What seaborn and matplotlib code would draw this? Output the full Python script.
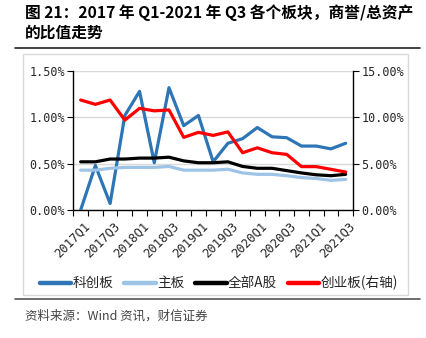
import numpy as np
import pandas as pd
import matplotlib
matplotlib.use("Agg")
import matplotlib.pyplot as plt
import seaborn as sns
from matplotlib.lines import Line2D
from matplotlib.patches import Rectangle
from matplotlib.ticker import FuncFormatter, MultipleLocator, FixedLocator
import matplotlib.transforms as mtransforms

quarters = ["2017Q1", "2017Q2", "2017Q3", "2017Q4", "2018Q1", "2018Q2", "2018Q3", "2018Q4",
            "2019Q1", "2019Q2", "2019Q3", "2019Q4", "2020Q1", "2020Q2", "2020Q3", "2020Q4",
            "2021Q1", "2021Q2", "2021Q3"]
kcb = [0.00, 0.48, 0.07, 1.02, 1.28, 0.51, 1.32, 0.91, 1.02, 0.52, 0.72, 0.77, 0.89, 0.79,
       0.78, 0.69, 0.69, 0.66, 0.72]
zb = [0.43, 0.43, 0.45, 0.46, 0.46, 0.46, 0.47, 0.43, 0.43, 0.43, 0.44, 0.40, 0.385, 0.385,
      0.37, 0.35, 0.34, 0.32, 0.33]
qba = [0.52, 0.52, 0.55, 0.55, 0.56, 0.56, 0.57, 0.53, 0.51, 0.51, 0.52, 0.47, 0.45, 0.45,
       0.425, 0.40, 0.38, 0.37, 0.385]
cyb = [11.87, 11.4, 11.87, 9.7, 10.97, 10.7, 10.8, 7.84, 8.38, 8.05, 8.43, 6.18, 6.71, 6.18,
       6.0, 4.68, 4.68, 4.39, 4.1]
series_names = ["科创板", "主板", "全部A股", "创业板(右轴)"]
colors = ["#2E75B6", "#9DC3E6", "#000000", "#FF0000"]

df = pd.DataFrame({"q": quarters, "i": np.arange(len(quarters)),
                   "kcb": kcb, "zb": zb, "qba": qba, "cyb": cyb})

sns.set_theme(style="white")
plt.rcParams["font.family"] = ["Noto Sans CJK SC", "DejaVu Sans"]

W, H = 427, 338
fig = plt.figure(figsize=(W / 100, H / 100), dpi=100)
ax = fig.add_axes([73.3 / W, 1 - 210 / H, (353 - 73.3) / W, (210 - 71) / H])
ax2 = ax.twinx()

lw = 2.3
sns.lineplot(data=df, x="i", y="kcb", ax=ax, color=colors[0], linewidth=lw, zorder=3)
sns.lineplot(data=df, x="i", y="zb", ax=ax, color=colors[1], linewidth=lw, zorder=3)
sns.lineplot(data=df, x="i", y="qba", ax=ax, color=colors[2], linewidth=lw, zorder=4)
sns.lineplot(data=df, x="i", y="cyb", ax=ax2, color=colors[3], linewidth=lw, zorder=3)

ax.set_xlim(-0.5, len(quarters) - 0.5)
ax.set_ylim(0, 1.5)
ax2.set_ylim(0, 15)
ax.set_xlabel("")
ax.set_ylabel("")
ax2.set_ylabel("")

ax.yaxis.set_major_locator(MultipleLocator(0.5))
ax2.yaxis.set_major_locator(MultipleLocator(5))
fmt = FuncFormatter(lambda v, p: f"{v:.2f}%")
ax.yaxis.set_major_formatter(fmt)
ax2.yaxis.set_major_formatter(fmt)
ax.grid(axis="y", color="#D9D9D9", linewidth=1.0)
ax.set_axisbelow(True)

ax.set_xticks(np.arange(0, len(quarters), 2))
ax.set_xticklabels(quarters[::2])
ax.xaxis.set_minor_locator(FixedLocator(np.arange(-0.5, len(quarters), 1)))
ax.tick_params(axis="x", which="major", length=0, pad=7)
ax.tick_params(axis="x", which="minor", length=4, width=0.8, color="black", direction="out", bottom=True)
offset = mtransforms.ScaledTranslation(3 / 100, 0, fig.dpi_scale_trans)
for lab in ax.get_xticklabels():
    lab.set_rotation(45)
    lab.set_ha("right")
    lab.set_rotation_mode("anchor")
    lab.set_fontfamily("DejaVu Sans Mono")
    lab.set_fontsize(8.8)
    lab.set_transform(lab.get_transform() + offset)

ax.tick_params(axis="y", length=4, width=0.8, color="black", left=True, direction="out", pad=2)
ax2.tick_params(axis="y", length=4, width=0.8, color="black", right=True, direction="out", pad=2)
for a in (ax, ax2):
    for lab in a.get_yticklabels():
        lab.set_fontfamily("DejaVu Sans Mono")
        lab.set_fontsize(8.5)
    a.spines["top"].set_visible(False)
    for s in ["left", "right", "bottom"]:
        a.spines[s].set_color("black")
        a.spines[s].set_linewidth(1.0)
ax.spines["right"].set_visible(False)
ax2.spines["left"].set_visible(False)
ax2.spines["bottom"].set_visible(False)

# chart frame
fig.patches.append(Rectangle((23 / W, 1 - 295 / H), (408 - 23) / W, (295 - 54) / H,
                             transform=fig.transFigure, fill=False, edgecolor="#D9D9D9",
                             linewidth=1.0))
# rules
fig.add_artist(Line2D([15 / W, 420 / W], [1 - 48 / H, 1 - 48 / H], color="#222222", linewidth=1.2))
fig.add_artist(Line2D([15 / W, 420 / W], [1 - 299 / H, 1 - 299 / H], color="#555555", linewidth=1.2))

fig.text(25 / W, 1 - 13 / H, "图 21：2017 年 Q1-2021 年 Q3 各个板块，商誉/总资产",
         fontsize=11.3, fontweight="bold", va="center", ha="left", color="black")
fig.text(25 / W, 1 - 33 / H, "的比值走势", fontsize=11.3, fontweight="bold",
         va="center", ha="left", color="black")
fig.text(25 / W, 1 - 316 / H, "资料来源：Wind 资讯，财信证券", fontsize=9,
         va="center", ha="left", color="#444444", style="italic")

handles = [Line2D([], [], color=c, linewidth=3.2) for c in colors]
fig.legend(handles, series_names, loc="center", bbox_to_anchor=(219 / W, 1 - 283 / H),
           ncol=4, frameon=False, fontsize=9.8, handlelength=2.3, handletextpad=0.1,
           columnspacing=0.8, borderpad=0)

fig.savefig("out.png", dpi=100)
